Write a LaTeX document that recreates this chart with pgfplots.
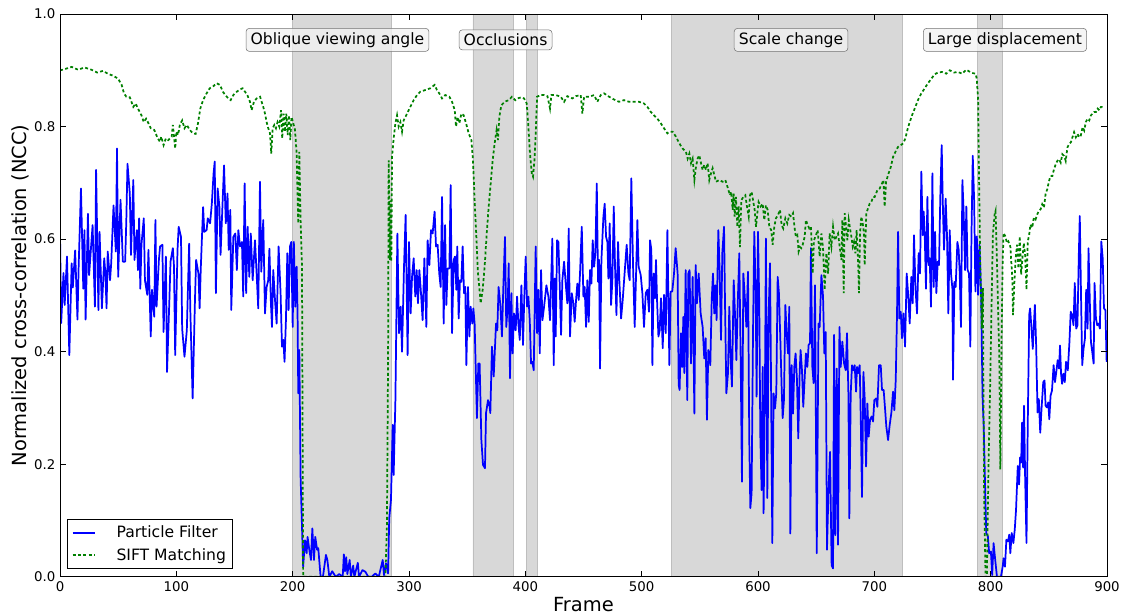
\documentclass[border=0pt]{standalone}
\usepackage{pgfplots}
\pgfplotsset{compat=1.18}
\usepackage{fontspec}
\setmainfont{DejaVu Sans}

\definecolor{pfblue}{RGB}{0,0,255}
\definecolor{siftgreen}{RGB}{0,128,0}
\definecolor{spangray}{RGB}{216,216,216}
\definecolor{spanedge}{RGB}{190,190,190}

\tikzset{
  tag/.style={draw=black!55, fill=black!5, fill opacity=0.8, text opacity=1,
    rounded corners=2.5pt, inner xsep=3.5pt, inner ysep=3pt,
    font=\fontsize{11.7}{13}\selectfont},
  span/.style={fill=spangray, draw=spanedge, line width=0.7pt},
}

\begin{document}
\begin{tikzpicture}
\begin{axis}[
  name=ax,
  width=785pt, height=422pt, scale only axis,
  xmin=0, xmax=900, ymin=0, ymax=1,
  xtick={0,100,...,900},
  ytick={0,0.2,0.4,0.6,0.8,1.0},
  yticklabel style={/pgf/number format/.cd,fixed,fixed zerofill,precision=1},
  /pgf/number format/assume math mode=true,
  tick align=inside,
  major tick length=4.5pt,
  tick style={black, line width=0.6pt},
  axis line style={line width=0.75pt},
  tick label style={font=\fontsize{10}{12}\selectfont},
  label style={font=\fontsize{14.6}{16}\selectfont},
  xlabel={Frame},
  ylabel={Normalized cross-correlation (NCC)},
  xlabel style={yshift=3pt},
  ylabel shift=-3pt,
  axis on top,
  legend style={at={(0.007,0.014)}, anchor=south west, draw=black,
    font=\fontsize{11.7}{13}\selectfont,
    row sep=2.5pt, inner xsep=3pt, inner ysep=3pt,
    /tikz/every odd column/.append style={column sep=13pt}},
  legend cell align=left,
  legend image code/.code={\draw[#1] (0cm,0cm) -- (0.6cm,0cm);},
  legend image post style={line width=1.6pt},
]

% shaded event spans
\addplot[span, forget plot] coordinates {(200,0) (200,1) (285,1) (285,0) (200,0)};
\addplot[span, forget plot] coordinates {(355,0) (355,1) (390,1) (390,0) (355,0)};
\addplot[span, forget plot] coordinates {(401,0) (401,1) (410,1) (410,0) (401,0)};
\addplot[span, forget plot] coordinates {(526,0) (526,1) (724,1) (724,0) (526,0)};
\addplot[span, forget plot] coordinates {(789,0) (789,1) (810,1) (810,0) (789,0)};

% Particle Filter
\addplot[pfblue, line width=1.3pt, line join=round] coordinates {
(0,0.607)(1,0.451)(3,0.54)(4,0.483)(6,0.569)(8,0.394)(10,0.557)(11,0.514)(13,0.58)(15,0.457)
(16,0.55)(18,0.69)(20,0.512)(21,0.616)(22,0.457)(24,0.645)(25,0.536)(28,0.625)(30,0.48)(31,0.723)
(33,0.474)(34,0.613)(36,0.477)(38,0.566)(39,0.539)(40,0.477)(41,0.578)(43,0.527)(44,0.557)(46,0.66)
(48,0.578)(49,0.761)(50,0.533)(52,0.67)(53,0.616)(54,0.56)(56,0.56)(57,0.634)(58,0.734)(60,0.681)
(61,0.572)(63,0.705)(64,0.563)(66,0.616)(67,0.545)(68,0.637)(69,0.512)(70,0.59)(72,0.637)(73,0.527)
(75,0.501)(76,0.581)(78,0.427)(79,0.51)(81,0.462)(82,0.634)(83,0.48)(85,0.563)(86,0.587)(88,0.59)
(89,0.435)(91,0.569)(92,0.364)(94,0.492)(95,0.56)(97,0.584)(98,0.551)(99,0.394)(101,0.581)(102,0.622)
(104,0.604)(105,0.441)(107,0.391)(109,0.438)(111,0.592)(112,0.474)(114,0.317)(116,0.492)(117,0.563)(119,0.539)
(120,0.477)(121,0.548)(123,0.657)(124,0.613)(126,0.616)(127,0.637)(129,0.628)(130.5,0.663)(132,0.717)(133,0.738)
(134,0.504)(135.5,0.69)(137,0.658)(138,0.572)(139.5,0.652)(141,0.731)(142.5,0.628)(144,0.681)(145,0.581)(146.4,0.652)
(147.2,0.474)(149,0.604)(150.7,0.61)(152,0.545)(153.3,0.616)(154.7,0.587)(156.4,0.595)(157.5,0.498)(158.7,0.699)(160,0.504)
(161.3,0.622)(162.7,0.533)(164,0.61)(165.6,0.527)(167.6,0.598)(169,0.539)(170.4,0.477)(171.9,0.702)(173,0.542)(174.7,0.634)
(176.2,0.468)(177.6,0.515)(179,0.527)(180,0.583)(181.3,0.486)(182.2,0.444)(183.3,0.545)(184.8,0.492)(186.2,0.45)(187.9,0.587)
(189.6,0.504)(190.8,0.409)(192,0.421)(193,0.382)(194.2,0.456)(195.4,0.575)(196.5,0.474)(197.7,0.587)(198.8,0.595)(200,0.444)
(201,0.595)(202.2,0.48)(203.4,0.551)(204.2,0.468)(204.8,0.326)(205.7,0.403)(206.8,0.178)(208,0.089)(209,0.018)(210.6,0.065)
(212,0.042)(212.8,0.071)(214.3,0.048)(215.7,0.03)(216.9,0.086)(218.3,0.03)(219.4,0.071)(221,0.048)(222,0.051)(224,0)
(226,0)(228.6,0.039)(229.8,0.03)(231.5,0)(234,0.01)(237,0)(240,0.005)(243,0)(244,0.04)(245,0.01)
(246,0.035)(247,0.005)(249,0.03)(250,0)(252,0.02)(253,0)(256,0.025)(257,0)(260,0.012)(262.5,0.009)
(265,0)(268,0)(271,0.006)(274,0)(277.4,0.03)(278.5,0.003)(280.2,0.024)(282,0.006)(283,0.104)(284.5,0.137)
(286,0.27)(286.8,0.181)(288.3,0.314)(290,0.61)(291.4,0.433)(292.8,0.48)(294,0.4)(295.7,0.551)(297.1,0.643)(298.8,0.394)
(300,0.595)(301.4,0.468)(302.6,0.533)(304,0.566)(305.4,0.498)(306.6,0.545)(307.7,0.486)(308.9,0.545)(310.3,0.504)(311.7,0.456)
(313.2,0.566)(314.9,0.444)(316,0.598)(317.5,0.554)(318.9,0.616)(320.3,0.61)(322,0.649)(323.2,0.587)(324.6,0.59)(326,0.539)
(327.2,0.515)(328.4,0.675)(329.8,0.45)(331,0.625)(332.1,0.483)(333.2,0.548)(334.7,0.548)(335.8,0.696)(337,0.433)(338.4,0.563)
(339.5,0.569)(340.7,0.51)(341.5,0.587)(342.7,0.459)(343.8,0.527)(345,0.524)(346.1,0.587)(347.3,0.504)(348.4,0.515)(349.3,0.376)
(350.7,0.515)(351.9,0.427)(353,0.48)(354.4,0.45)(355.3,0.477)(356.4,0.45)(358.4,0.282)(359.6,0.379)(360.7,0.379)(362.2,0.243)
(363.6,0.199)(365.3,0.193)(366.2,0.291)(367.9,0.314)(369.3,0.302)(369.9,0.291)(371.3,0.409)(372.8,0.356)(374.8,0.45)(375.9,0.438)
(377,0.515)(378.5,0.483)(379.9,0.427)(381,0.51)(382.5,0.604)(383.6,0.444)(384.8,0.48)(385.7,0.557)(386.8,0.353)(388,0.504)
(389.1,0.397)(390.2,0.468)(391.7,0.438)(392.9,0.498)(394,0.45)(395.2,0.421)(396.6,0.518)(398,0.412)(399.2,0.504)(400.3,0.569)
(401.5,0.48)(402.6,0.498)(403.8,0.456)(404.9,0.379)(406,0.382)(407.2,0.367)(408.9,0.587)(410.1,0.433)(411.2,0.51)(412.4,0.397)
(413.5,0.545)(414.7,0.456)(416.1,0.48)(418.1,0.518)(419.8,0.498)(421.2,0.456)(423.2,0.601)(424.4,0.376)(425.3,0.53)(426.1,0.427)
(427.3,0.598)(428.4,0.595)(429.6,0.515)(430.7,0.43)(431.8,0.527)(433.3,0.56)(434.7,0.521)(436.1,0.486)(437.3,0.619)(438.4,0.427)
(439.9,0.504)(441.3,0.486)(442.4,0.453)(443.6,0.492)(444.7,0.521)(445.9,0.492)(447,0.539)(448.5,0.622)(449.9,0.498)(451,0.515)
(452.2,0.444)(453.3,0.527)(454.5,0.453)(455.6,0.545)(456.8,0.521)(457.9,0.598)(459.1,0.551)(460.2,0.575)(461.4,0.699)(462.5,0.524)
(463.4,0.563)(464.2,0.37)(465.4,0.563)(467.1,0.64)(468.2,0.663)(469.4,0.604)(470.5,0.595)(471.4,0.53)(472.5,0.628)(473.7,0.483)
(474.8,0.527)(476,0.658)(477.1,0.551)(478.3,0.465)(479.7,0.595)(480.8,0.527)(482.3,0.459)(483.7,0.492)(485.1,0.533)(487.1,0.59)
(488.6,0.539)(489.7,0.527)(491.1,0.708)(492.6,0.551)(494,0.444)(495.2,0.539)(496.3,0.634)(497.4,0.551)(499.2,0.536)(500.6,0.504)
(502,0.444)(503.5,0.504)(504.9,0.51)(506.3,0.471)(507.2,0.598)(508.3,0.581)(509.2,0.376)(510.3,0.539)(511.5,0.495)(512.3,0.563)
(513.2,0.492)(514.4,0.427)(515.5,0.438)(516.6,0.495)(518.1,0.406)(519.2,0.501)(520.7,0.433)(522.1,0.616)(523.8,0.376)(524.9,0.507)
(526.3,0.507)(527.8,0.539)(529.2,0.584)(530.9,0.539)(531.8,0.341)(532.6,0.332)(533.8,0.433)(534.9,0.373)(535.8,0.462)(536.7,0.362)
(537.8,0.545)(539.2,0.314)(540.1,0.539)(541.2,0.545)(542.4,0.379)(543.8,0.533)(545.3,0.29)(546.4,0.554)(547.5,0.486)(549,0.539)
(550.7,0.468)(552.4,0.444)(553.8,0.388)(555,0.424)(556.1,0.279)(557.3,0.403)(559,0.376)(560.2,0.492)(561.3,0.539)(562.4,0.468)
(563.3,0.518)(564.4,0.456)(565.9,0.616)(567,0.545)(568.2,0.421)(569.3,0.575)(570.8,0.622)(571.6,0.492)(572.8,0.326)(574.2,0.362)
(575.3,0.48)(576.5,0.385)(577.6,0.338)(579.1,0.527)(580.2,0.468)(581.4,0.385)(582.5,0.48)(583.9,0.575)(585.1,0.385)(586.2,0.169)
(587.4,0.539)(588.8,0.492)(590,0.444)(591.4,0.542)(592.5,0.243)(593.4,0.122)(594.5,0.149)(595.7,0.433)(596.8,0.613)(598,0.504)
(598.8,0.32)(600,0.613)(601.1,0.48)(602,0.249)(603.1,0.154)(604,0.373)(604.8,0.113)(606,0.344)(606.8,0.601)(608,0.14)
(609.1,0.462)(610.3,0.557)(611.1,0.373)(612.3,0.06)(613.4,0.326)(614.6,0.299)(615.7,0.326)(616.9,0.533)(618,0.504)(619.2,0.421)
(620.3,0.338)(621.2,0.282)(622.3,0.314)(623.5,0.483)(624.6,0.433)(625.8,0.397)(626.9,0.48)(627.8,0.077)(628.9,0.376)(630.1,0.29)
(631.2,0.373)(632.3,0.397)(633.5,0.35)(634.6,0.246)(635.8,0.362)(636.6,0.403)(637.8,0.367)(638.9,0.302)(640.1,0.353)(641.2,0.397)
(642.4,0.373)(643.5,0.412)(644.7,0.415)(645.5,0.584)(646.7,0.373)(647.8,0.344)(649,0.518)(650.5,0.042)(652,0.45)(653,0.444)
(654.5,0.536)(655.9,0.498)(657,0.397)(658.2,0.435)(659.3,0.048)(660.5,0.148)(661.9,0.222)(663.3,0.02)(664.5,0.015)(665.4,0.43)
(666.5,0.074)(667.7,0.37)(668.8,0.057)(670,0.444)(671.1,0.373)(672.5,0.418)(674,0.379)(675.4,0.367)(676.5,0.433)(677.7,0.326)
(678.5,0.104)(679.7,0.326)(680.8,0.376)(682,0.367)(683.1,0.376)(684.3,0.329)(685.1,0.373)(686,0.362)(687.4,0.376)(688.3,0.285)
(689.4,0.142)(690.6,0.364)(691.7,0.317)(692.9,0.196)(694,0.308)(695.1,0.249)(696.3,0.279)(697.7,0.285)(698.9,0.276)(700,0.314)
(701.5,0.317)(702.6,0.302)(704,0.376)(705.5,0.376)(706.6,0.332)(708,0.332)(709.2,0.299)(710.3,0.267)(711.8,0.243)(713.2,0.27)
(714.6,0.291)(716.1,0.329)(717.2,0.296)(718.4,0.35)(719.5,0.468)(720.4,0.613)(721.5,0.459)(722.7,0.471)(723.8,0.424)(725,0.468)
(726.4,0.409)(727.8,0.539)(729,0.504)(730.4,0.45)(731.8,0.533)(733,0.486)(734.1,0.607)(735.3,0.515)(736.7,0.468)(738.1,0.575)
(739.3,0.539)(740.4,0.72)(741.6,0.607)(742.4,0.649)(743.3,0.61)(744.4,0.512)(745.6,0.675)(746.7,0.554)(747.6,0.566)(748.7,0.48)
(749.9,0.717)(751,0.515)(752.2,0.613)(753.3,0.504)(754.5,0.56)(755.6,0.554)(756.7,0.675)(757.9,0.767)(758.8,0.669)(759.9,0.581)
(761.3,0.672)(762.5,0.604)(763.6,0.468)(764.8,0.616)(765.9,0.539)(767.1,0.512)(767.6,0.35)(768.8,0.524)(769.9,0.515)(771.4,0.595)
(772.5,0.581)(773.4,0.539)(774.5,0.444)(775.7,0.705)(776.8,0.646)(778,0.545)(779.1,0.658)(780.2,0.545)(781.4,0.539)(782.5,0.409)
(783.5,0.608)(784.6,0.748)(785.8,0.668)(786.9,0.507)(788.1,0.605)(789.2,0.501)(790.4,0.59)(791.8,0.501)(793,0.322)(794.1,0.262)
(795,0.179)(796.2,0.078)(797.6,0.072)(798.7,0.042)(800.2,0.045)(801.3,0.003)(802.5,0.06)(803.9,0.03)(805.4,0)(807.7,0)
(808.8,0)(810.3,0.018)(811.1,0.033)(812.3,0.018)(813.5,0.066)(814.9,0.063)(816,0.075)(816.9,0.042)(818.1,0.078)(819.5,0.06)
(820.7,0.084)(821.8,0.119)(823.3,0.197)(824.4,0.164)(825.3,0.212)(826.2,0.203)(827,0.274)(827.9,0.194)(828.7,0.304)(829.6,0.179)
(830.8,0.06)(831.9,0.274)(833.1,0.465)(833.9,0.477)(835.1,0.441)(836.2,0.405)(837.1,0.447)(838,0.483)(839.1,0.411)(840.3,0.292)
(841.4,0.316)(842.6,0.256)(843.7,0.298)(845.2,0.346)(846.3,0.349)(847.2,0.304)(848.4,0.301)(849.5,0.31)(850.4,0.28)(851.5,0.322)
(852.7,0.331)(854.1,0.376)(855.3,0.346)(856.4,0.364)(857.6,0.385)(858.8,0.37)(859.6,0.411)(860.5,0.361)(861.4,0.343)(862.5,0.361)
(863.7,0.346)(864.8,0.382)(866.3,0.367)(867.7,0.417)(868.8,0.471)(870,0.465)(871.2,0.447)(872.3,0.522)(873.5,0.441)(874.6,0.447)
(875.8,0.575)(876.6,0.641)(877.8,0.483)(878.7,0.376)(879.8,0.405)(881,0.423)(882.1,0.51)(883.3,0.441)(884.1,0.584)(885.3,0.483)
(886.2,0.417)(887.3,0.4)(888.5,0.379)(889.3,0.522)(890.5,0.459)(891.6,0.447)(892.8,0.45)(893.9,0.441)(895.1,0.596)(896.3,0.566)
(897.4,0.477)(898.6,0.474)(899.7,0.382)
};
\addlegendentry{Particle Filter}

% SIFT Matching
\addplot[siftgreen, line width=1.3pt, dash pattern=on 2.2pt off 1.8pt] coordinates {
(0,0.9)(4,0.902)(10,0.906)(15.5,0.901)(21,0.905)(27,0.901)(32,0.896)(37,0.899)(41,0.894)(46,0.89)
(50,0.885)(53,0.874)(55,0.859)(57,0.853)(60,0.852)(63,0.835)(65,0.841)(67,0.832)(70,0.82)(72,0.808)
(74,0.814)(76,0.806)(78,0.797)(81,0.794)(84,0.779)(86,0.773)(87,0.782)(89,0.767)(91,0.779)(93,0.776)
(96,0.782)(97,0.803)(99,0.761)(100,0.791)(101.5,0.785)(103,0.803)(105,0.811)(107,0.797)(109,0.803)(111.5,0.794)
(114.3,0.788)(116.6,0.787)(118.6,0.806)(120.6,0.832)(123,0.847)(126,0.859)(128.7,0.868)(132,0.872)(134.6,0.877)(137.5,0.874)
(140,0.862)(142,0.856)(144.7,0.85)(146.7,0.847)(149,0.856)(152,0.862)(154.7,0.866)(157,0.868)(159,0.862)(161,0.856)
(163.3,0.844)(164.7,0.829)(166.7,0.844)(169,0.85)(172,0.853)(173.3,0.844)(174.7,0.835)(176.2,0.823)(177.6,0.808)(179,0.797)
(180.5,0.788)(181.6,0.752)(182.8,0.797)(184.2,0.803)(185.6,0.797)(187,0.808)(188.5,0.8)(190,0.829)(191,0.779)(192.2,0.823)
(193.4,0.791)(194.5,0.823)(195.7,0.785)(196.8,0.82)(198,0.776)(199,0.817)(200.5,0.806)(202,0.794)(203.4,0.752)(204.8,0.628)
(205.7,0.755)(206.8,0.634)(208,0.551)(208.5,0.267)(209,0)(279.7,0)(281,0.089)(282,0.385)(282.5,0.74)(283.7,0.563)
(284.2,0.669)(284.8,0.56)(285.4,0.746)(286.8,0.779)(288.3,0.806)(289.7,0.82)(291.1,0.8)(292.6,0.808)(294,0.791)(295.4,0.811)
(298.3,0.823)(301.1,0.835)(304,0.847)(306.9,0.856)(309.7,0.862)(314,0.865)(318.3,0.868)(322,0.874)(324,0.865)(326,0.859)
(328.4,0.85)(331.2,0.856)(334.7,0.853)(337,0.844)(339.3,0.829)(340.4,0.8)(341.8,0.817)(343.3,0.806)(345,0.823)(347,0.82)
(349,0.806)(351.3,0.788)(353.6,0.776)(355,0.74)(356.4,0.669)(357.9,0.604)(359.3,0.539)(360.4,0.515)(361.6,0.486)(363.3,0.51)
(365,0.551)(366.8,0.61)(368.5,0.658)(370.2,0.699)(371.9,0.74)(373.6,0.77)(375.3,0.794)(376.5,0.776)(377.6,0.817)(379.4,0.838)
(382.2,0.844)(385.7,0.847)(388.5,0.853)(391.4,0.847)(393.2,0.85)(396.6,0.852)(398.9,0.85)(401.2,0.841)(402.6,0.8)(404,0.752)
(405.5,0.717)(406.6,0.711)(407.8,0.74)(408.9,0.788)(410.1,0.853)(413.2,0.856)(416.1,0.856)(419,0.854)(421.2,0.832)(422.4,0.856)
(426.1,0.856)(430.4,0.853)(433.3,0.844)(436.1,0.854)(440.4,0.85)(443.3,0.854)(447.6,0.856)(449,0.823)(450.5,0.853)(454.8,0.853)
(459.1,0.856)(461.9,0.844)(464.8,0.856)(467.7,0.859)(472,0.853)(476.3,0.848)(480.5,0.844)(484.8,0.847)(489.1,0.844)(493.4,0.844)
(497.7,0.844)(502,0.841)(504.9,0.835)(507.8,0.826)(510.6,0.82)(513.5,0.814)(516.4,0.806)(519.2,0.797)(522.1,0.788)(523.8,0.791)
(526.6,0.791)(529.5,0.782)(532.4,0.77)(535.2,0.761)(538.1,0.755)(539.5,0.743)(541,0.752)(542.4,0.735)(543.8,0.743)(545.3,0.705)
(546.7,0.729)(548.1,0.743)(549.5,0.749)(551,0.735)(552.4,0.723)(553.8,0.732)(555.3,0.723)(556.7,0.735)(558.1,0.705)(559.6,0.717)
(561,0.726)(562.4,0.714)(563.9,0.702)(566.7,0.705)(569.6,0.702)(571.9,0.705)(573.9,0.692)(575.9,0.678)(577,0.684)(578.2,0.652)
(579.1,0.681)(579.9,0.64)(581.1,0.675)(582.2,0.622)(583.4,0.658)(584.5,0.586)(585.6,0.669)(587.4,0.675)(589.1,0.678)(590.5,0.658)
(592,0.64)(593.1,0.678)(594.5,0.684)(596,0.666)(597.1,0.652)(598.3,0.622)(599.4,0.646)(600.5,0.666)(602.3,0.658)(604,0.663)
(605.4,0.634)(606.8,0.66)(608.3,0.652)(609.7,0.622)(611.4,0.616)(612.6,0.59)(614,0.622)(615.4,0.637)(617.2,0.643)(618.9,0.652)
(620.3,0.625)(621.7,0.619)(623.5,0.637)(625.2,0.628)(626.9,0.643)(628.6,0.64)(630.1,0.646)(631.5,0.619)(632.6,0.604)(633.8,0.607)
(634.9,0.578)(636.1,0.586)(637.2,0.584)(638.4,0.59)(640.1,0.604)(641.2,0.634)(642.7,0.625)(644.1,0.619)(645.5,0.622)(647,0.539)
(648.1,0.598)(649.8,0.607)(651.3,0.616)(653,0.569)(654.5,0.61)(655.9,0.584)(657.3,0.51)(658.8,0.575)(660.2,0.539)(661.6,0.61)
(663.1,0.587)(664.5,0.622)(665.9,0.598)(667.4,0.604)(668.8,0.61)(670.2,0.587)(671.7,0.563)(672.5,0.634)(673.7,0.504)(674.5,0.646)
(675.7,0.622)(676.8,0.598)(678,0.634)(679.1,0.619)(680.3,0.604)(681.4,0.587)(682.5,0.595)(683.7,0.575)(684.8,0.616)(686,0.563)
(686.8,0.504)(687.7,0.61)(688.8,0.64)(690,0.628)(691.1,0.61)(691.7,0.554)(693.1,0.646)(694.6,0.655)(696,0.663)(697.4,0.666)
(698.9,0.675)(700.3,0.675)(702.6,0.687)(704.6,0.69)(706.6,0.699)(707.8,0.705)(708.9,0.658)(710.1,0.702)(711.8,0.714)(714.1,0.728)
(716.1,0.746)(718.1,0.755)(720.4,0.764)(722.7,0.767)(724.7,0.77)(726.7,0.779)(728.4,0.794)(730.4,0.808)(732.4,0.82)(734.7,0.832)
(737.5,0.847)(740.4,0.859)(743.3,0.868)(746.1,0.877)(749,0.885)(751.9,0.893)(754.7,0.896)(758.2,0.897)(761.9,0.894)(764.8,0.9)
(768.5,0.896)(771.9,0.897)(775.4,0.894)(779.1,0.901)(782.3,0.897)(784.6,0.895)(786.9,0.894)(788.1,0.885)(789.2,0.846)(789.8,0.739)
(791,0.56)(792.4,0.441)(793.3,0.513)(793.8,0.322)(794.4,0.143)(795.6,0)(796.7,0)(798.2,0.203)(799.6,0.346)(800.8,0.489)
(801.9,0.608)(803.4,0.644)(804.2,0.65)(805.1,0.584)(806.2,0.489)(807.4,0.393)(808.3,0.191)(809.4,0.429)(810.3,0.56)(811.1,0.611)
(812.6,0.605)(814,0.593)(815.2,0.596)(816.9,0.587)(818.6,0.531)(819.2,0.465)(820.4,0.525)(821.5,0.566)(822.7,0.59)(823.8,0.548)
(825,0.605)(826.2,0.537)(827.3,0.566)(828.5,0.593)(829.6,0.572)(830.8,0.51)(831.9,0.596)(833.1,0.608)(834.2,0.626)(835.7,0.62)
(837.1,0.638)(838.6,0.635)(840,0.644)(841.4,0.65)(842.9,0.653)(844.3,0.662)(845.8,0.656)(847.2,0.68)(848.7,0.689)(850.1,0.703)
(851.5,0.712)(853,0.712)(854.4,0.724)(855.9,0.733)(857.3,0.739)(858.8,0.742)(860.2,0.736)(861.6,0.751)(863.1,0.748)(864.5,0.739)
(866,0.763)(867.4,0.769)(868.9,0.772)(870.3,0.781)(871.7,0.79)(873.2,0.781)(874.6,0.787)(876.1,0.781)(877.5,0.784)(879,0.799)
(880.4,0.793)(881.8,0.808)(883.3,0.814)(884.7,0.811)(886.2,0.82)(887.6,0.823)(889,0.826)(890.5,0.826)(891.9,0.832)(893.4,0.829)
(894.8,0.835)(896.3,0.835)(897.7,0.835)
};
\addlegendentry{SIFT Matching}

% event labels
\node[tag] at (axis cs:238.5,0.954) {Oblique viewing angle};
\node[tag] at (axis cs:383,0.954) {Occlusions};
\node[tag] at (axis cs:628.4,0.954) {Scale change};
\node[tag] at (axis cs:812.3,0.954) {Large displacement};
\end{axis}
\pgfresetboundingbox
\path[use as bounding box] ([xshift=-45pt,yshift=-28.5pt]ax.south west)
  rectangle ([xshift=14.25pt,yshift=10.5pt]ax.north east);
\end{tikzpicture}
\end{document}
